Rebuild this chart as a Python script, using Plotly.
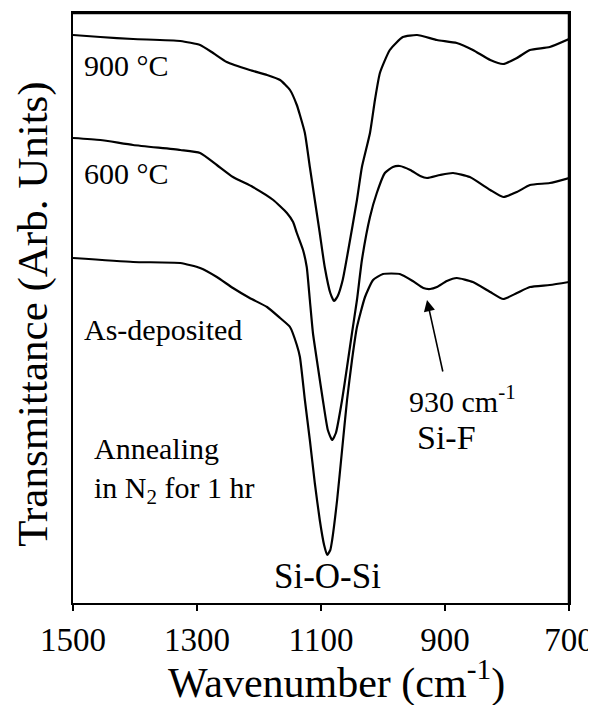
import plotly.graph_objects as go

# Wavenumber (cm^-1) and transmittance (arb. units)
wn_900 = [1500, 1456, 1403, 1327, 1295, 1274, 1252, 1215, 1187, 1166, 1150, 1139, 1134, 1126,
          1118, 1110, 1102, 1094, 1085, 1079, 1073, 1065, 1056, 1042, 1034, 1021, 1013, 1005,
          989, 968, 945, 913, 881, 855, 827, 806, 784, 763, 731, 700]
t_900 = [56.8, 56.6, 56.4, 56.2, 55.8, 55.0, 54.1, 53.3, 52.8, 52.3, 51.3, 49.8, 48.8, 47.0,
         43.6, 40.3, 37.0, 33.6, 31.0, 30.2, 30.7, 32.3, 35.3, 40.3, 43.6, 47.0, 50.3, 53.0,
         55.3, 56.6, 56.8, 56.3, 56.0, 55.3, 54.3, 53.9, 54.5, 55.3, 55.6, 56.4]

wn_600 = [1500, 1456, 1403, 1327, 1295, 1268, 1242, 1210, 1177, 1155, 1145, 1139, 1129, 1123,
          1118, 1113, 1105, 1097, 1089, 1082, 1076, 1066, 1058, 1050, 1042, 1034, 1021, 1010,
          997, 984, 973, 956, 940, 929, 908, 887, 860, 827, 806, 784, 763, 731, 700]
t_600 = [46.5, 46.3, 45.8, 45.3, 45.0, 43.8, 42.6, 41.6, 40.3, 39.0, 38.1, 37.0, 35.3, 33.6,
         30.3, 27.0, 23.6, 20.3, 17.3, 16.3, 17.0, 20.3, 23.6, 27.0, 30.3, 34.3, 38.6, 41.0,
         43.0, 43.6, 43.7, 43.3, 42.7, 42.5, 42.8, 43.0, 42.6, 41.3, 40.6, 41.1, 41.8, 42.0, 42.5]

wn_dep = [1500, 1403, 1327, 1295, 1268, 1242, 1215, 1187, 1166, 1150, 1139, 1134, 1126, 1118,
          1110, 1102, 1095, 1090, 1085, 1082, 1074, 1066, 1058, 1050, 1042, 1029, 1016, 1000,
          973, 952, 935, 924, 913, 897, 881, 855, 827, 806, 784, 763, 731, 700]
t_dep = [34.5, 34.1, 34.0, 33.5, 32.6, 31.5, 30.5, 29.6, 28.5, 27.6, 25.8, 24.6, 20.3, 16.3,
         12.0, 8.3, 5.8, 4.8, 5.3, 6.3, 10.3, 15.3, 20.3, 24.3, 27.6, 30.6, 32.3, 32.9,
         32.9, 32.2, 31.5, 31.4, 31.6, 32.2, 32.5, 32.1, 31.1, 30.4, 31.0, 31.6, 31.8, 32.1]

x_ticks = [1500, 1300, 1100, 900, 700]

FONT = "Liberation Serif"

fig = go.Figure()
for wn, t, name in [(wn_900, t_900, "900 °C"), (wn_600, t_600, "600 °C"), (wn_dep, t_dep, "As-deposited")]:
    fig.add_trace(go.Scatter(x=wn, y=t, mode="lines", name=name,
                             line=dict(color="black", width=2.2, shape="spline", smoothing=0.5),
                             showlegend=False, hoverinfo="skip"))

ann = []
def txt(x, y, s, size, xanchor="left", align="left", xref="x", yref="y", angle=0):
    ann.append(dict(x=x, y=y, xref=xref, yref=yref, text=s, showarrow=False,
                    xanchor=xanchor, yanchor="middle", align=align, textangle=angle,
                    font=dict(family=FONT, size=size, color="black")))

txt(1485, 53.8, "900 °C", 30)
txt(1485, 43.0, "600 °C", 30)
txt(1485, 27.4, "As-deposited", 30)
txt(1469, 13.3, "Annealing<br>in N<sub>2</sub> for 1 hr", 30)
txt(961, 20.4, "930 cm<sup>-1</sup>", 30)
txt(948, 16.6, "Si-F", 34)
txt(1090, 2.7, "Si-O-Si", 35, xanchor="center", align="center")

# axis titles
txt(0.532, -0.131, "Wavenumber (cm<sup>-1</sup>)", 42, xanchor="center", align="center",
    xref="paper", yref="paper")
txt(-0.081, 0.49, "Transmittance (Arb. Units)", 43, xanchor="center", align="center",
    xref="paper", yref="paper", angle=-90)

ann.append(dict(x=929, y=30.3, ax=903, ay=23.0, xref="x", yref="y", axref="x", ayref="y",
                text="", showarrow=True, arrowhead=2, arrowsize=1.4, arrowwidth=1.6,
                arrowcolor="black"))

# page body has an 8px margin, so the figure is offset to land on the 596x705 window
fig.update_layout(
    width=596, height=697,
    margin=dict(l=65, r=35, t=5, b=102),
    paper_bgcolor="white", plot_bgcolor="white",
    font=dict(family=FONT, color="black"),
    annotations=ann,
    shapes=[dict(type="line", xref="paper", yref="paper", x0=0, x1=1, y0=1, y1=1,
                 line=dict(color="black", width=2.5), layer="above"),
            dict(type="line", xref="paper", yref="paper", x0=1, x1=1, y0=0, y1=1,
                 line=dict(color="black", width=2.5), layer="above")],
    xaxis=dict(range=[1500, 700], tickvals=x_ticks, ticktext=[str(v) for v in x_ticks],
               showgrid=False, zeroline=False, showline=True, linecolor="black", linewidth=2,
               mirror=True, ticks="outside", ticklen=6, tickwidth=2, tickcolor="black",
               automargin=False,
               tickfont=dict(family=FONT, size=33, color="black")),
    yaxis=dict(range=[0, 59], showticklabels=False, ticks="", showgrid=False, zeroline=False,
               showline=True, linecolor="black", linewidth=2, mirror=True, automargin=False),
)

fig.write_html("out.html")
